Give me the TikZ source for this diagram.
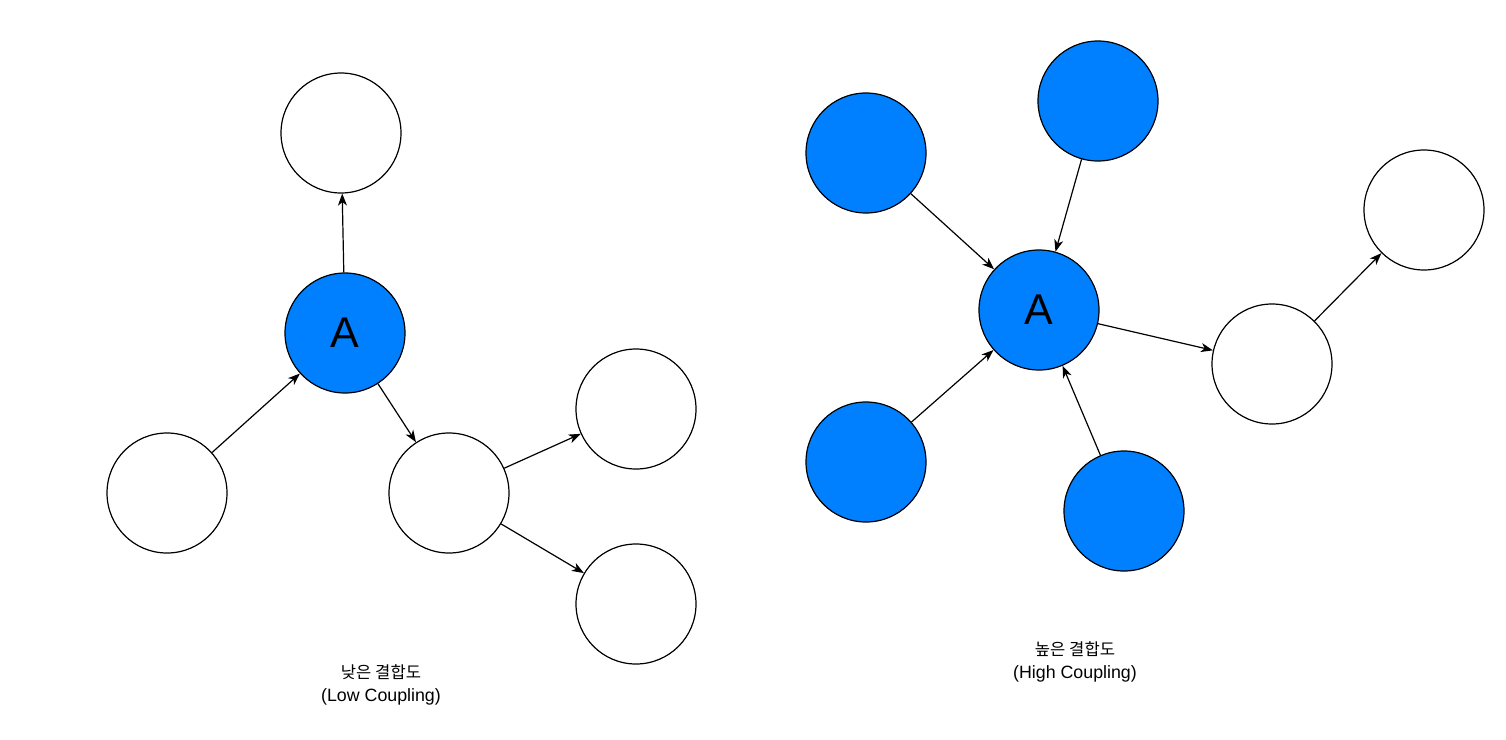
\documentclass[tikz,border=0pt]{standalone}
\usepackage{fontspec}
\setmainfont{Liberation Sans}
\newfontfamily\krfont{Noto Sans CJK KR}
\usetikzlibrary{arrows.meta}
\definecolor{nodeblue}{RGB}{0,127,255}
\begin{document}
\begin{tikzpicture}[x=1pt,y=-1pt,
  circ/.style={circle,draw=black,line width=1.2pt,minimum size=120pt,inner sep=0pt,fill=white},
  bcirc/.style={circ,fill=nodeblue},
  conn/.style={-{Stealth[length=12pt,width=9pt,inset=3.5pt]},line width=1.2pt},
  lbl/.style={align=center,font=\fontsize{17.8}{23}\selectfont}]
\useasboundingbox (0,0) rectangle (1506,739);
% left diagram
\node[circ] (ltop) at (341,133) {};
\node[bcirc,font=\fontsize{43}{43}\selectfont] (la) at (345,333) {A};
\node[circ] (lbl) at (167,493) {};
\node[circ] (lmid) at (449,493) {};
\node[circ] (lrt) at (636,409) {};
\node[circ] (lrb) at (636,604) {};
\draw[conn] (la) -- (ltop);
\draw[conn] (lbl) -- (la);
\draw[conn] (la) -- (lmid);
\draw[conn] (lmid) -- (lrt);
\draw[conn] (lmid) -- (lrb);
% right diagram
\node[bcirc] (rtl) at (866,153) {};
\node[bcirc] (rtop) at (1098,101) {};
\node[bcirc,font=\fontsize{43}{43}\selectfont] (ra) at (1039,310) {A};
\node[bcirc] (rbl) at (866,462) {};
\node[bcirc] (rbot) at (1124,511) {};
\node[circ] (rmid) at (1272,364) {};
\node[circ] (rtr) at (1424,210) {};
\draw[conn] (rtl) -- (ra);
\draw[conn] (rtop) -- (ra);
\draw[conn] (rbl) -- (ra);
\draw[conn] (rbot) -- (ra);
\draw[conn] (ra) -- (rmid);
\draw[conn] (rmid) -- (rtr);
% labels
\node[lbl] (lowlabel) at (381,685) {{\krfont\fontsize{16.6}{23}\selectfont 낮은 결합도}\\(Low Coupling)};
\node[lbl] (highlabel) at (1075,662) {{\krfont\fontsize{16.6}{23}\selectfont 높은 결합도}\\(High Coupling)};
\end{tikzpicture}
\end{document}
